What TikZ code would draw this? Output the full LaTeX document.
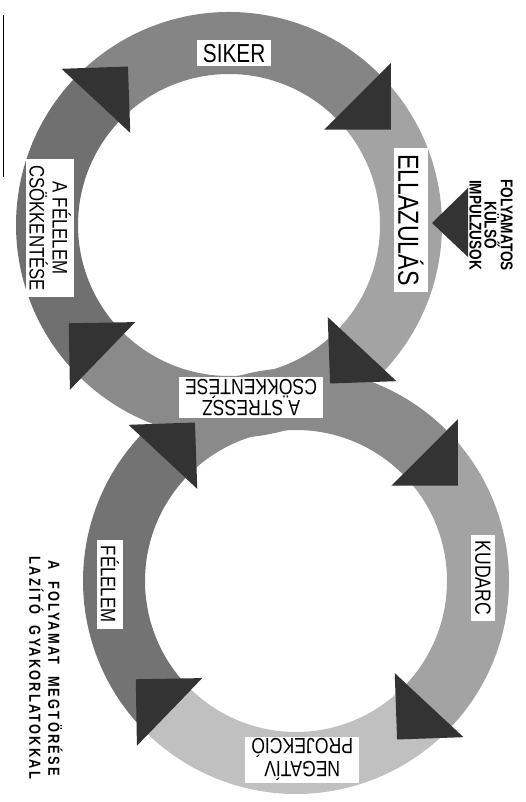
\documentclass[tikz,border=0pt]{standalone}
\usepackage{fontspec}
\usepackage{tikz}
\usetikzlibrary{calc}
\newfontfamily\lettering{Liberation Sans}[FakeStretch=0.8]
\newfontfamily\spaced{Liberation Sans}[FakeStretch=0.8, LetterSpace=14]
\definecolor{siker}{HTML}{858585}
\definecolor{ellaz}{HTML}{A3A3A3}
\definecolor{felcs}{HTML}{707070}
\definecolor{stress}{HTML}{8A8A8A}
\definecolor{kudarc}{HTML}{A3A3A3}
\definecolor{negat}{HTML}{C0C0C0}
\definecolor{felelem}{HTML}{737373}
\definecolor{tipfill}{HTML}{333333}
\tikzstyle{lbl}  = [fill=white, inner xsep=6pt, inner ysep=4pt, align=center]
\tikzstyle{note} = [inner sep=0pt, align=center]
% annular piece of a ring: centre, start angle, end angle, colour
\newcommand{\ringseg}[4]{%
  \fill[#4] ($(#1)+(#2:213)$) arc[start angle=#2, end angle=#3, radius=213pt]
    -- ($(#1)+(#3:151)$) arc[start angle=#3, end angle=#2, radius=151pt] -- cycle;}
% arrow head across the ring, pointing clockwise
\newcommand{\flowtip}[2]{%
  \fill[tipfill] ($(#1)+(#2:229)$) -- ($(#1)+(#2:135)$)
    -- ($(#1)+(#2:182)+(#2-90:47)$) -- cycle;}
\newcommand{\lsize}[1]{\lettering\fontsize{#1}{#1}\selectfont}

\begin{document}
\begin{tikzpicture}[x=1pt, y=1pt]
  \useasboundingbox (0,0) rectangle (525,802);
  \coordinate (upper) at (229,577);
  \coordinate (lower) at (296,221);

  %% ── Lower ring ──
  \ringseg{lower}{45}{137}{stress}
  \ringseg{lower}{-43}{45}{kudarc}
  \ringseg{lower}{226}{317}{negat}
  \ringseg{lower}{137}{226}{felelem}

  %% ── Upper ring ──
  \ringseg{upper}{45}{137}{siker}
  \ringseg{upper}{-43}{45}{ellaz}
  \ringseg{upper}{226}{317}{stress}
  \ringseg{upper}{137}{226}{felcs}

  %% ── Arrow heads ──
  \foreach \a in {45,137,226,317} {
    \flowtip{upper}{\a}
    \flowtip{lower}{\a}
  }

  %% ── Ring labels ──
  \node[lbl, font=\lsize{26}] (siker_lbl) at ($(upper)+(88.3:172)$) {SIKER};
  \node[lbl, rotate=-90, font=\lsize{29}] (ellaz_lbl) at ($(upper)+(1.6:182)$) {ELLAZULÁS};
  \node[lbl, rotate=-90, font=\lsize{21}, inner ysep=3pt] (felcs_lbl)
        at ($(upper)+(181:179)$) {A FÉLELEM\\[2pt]CSÖKKENTÉSE};
  \node[lbl, rotate=180, font=\lsize{22}, inner ysep=2pt] (stress_lbl)
        at ($(upper)+(-82.7:174)$) {A STRESSZ\\[-1pt]CSÖKKENTÉSE};
  \node[lbl, rotate=-90, font=\lsize{22}] (kudarc_lbl) at ($(lower)+(1:187)$) {KUDARC};
  \node[lbl, rotate=180, font=\lsize{22}, inner ysep=2pt] (negat_lbl)
        at ($(lower)+(-88:179)$) {NEGATÍV\\[1pt]PROJEKCIÓ};
  \node[lbl, rotate=-90, font=\lsize{21}] (felelem_lbl) at ($(lower)+(181:186)$) {FÉLELEM};

  %% ── Side notes ──
  \node[note, rotate=-90, font=\lettering\bfseries\fontsize{17}{15}\selectfont]
        (impulses) at (491,577) {FOLYAMATOS\\KÜLSŐ\\IMPULZUSOK};
  \coordinate (inlet) at (432,579);
  \fill[tipfill] (inlet) -- ++(36,35) -- ++(0,-69) -- cycle;
  \node[note, rotate=-90, font=\spaced\bfseries\fontsize{16}{19}\selectfont]
        (breaking) at (46,134) {A \ FOLYAMAT \ MEGTÖRÉSE\\LAZÍTÓ \ GYAKORLATOKKAL};

  \draw[line width=0.7pt] (3,787) -- (3,625);
\end{tikzpicture}
\end{document}
